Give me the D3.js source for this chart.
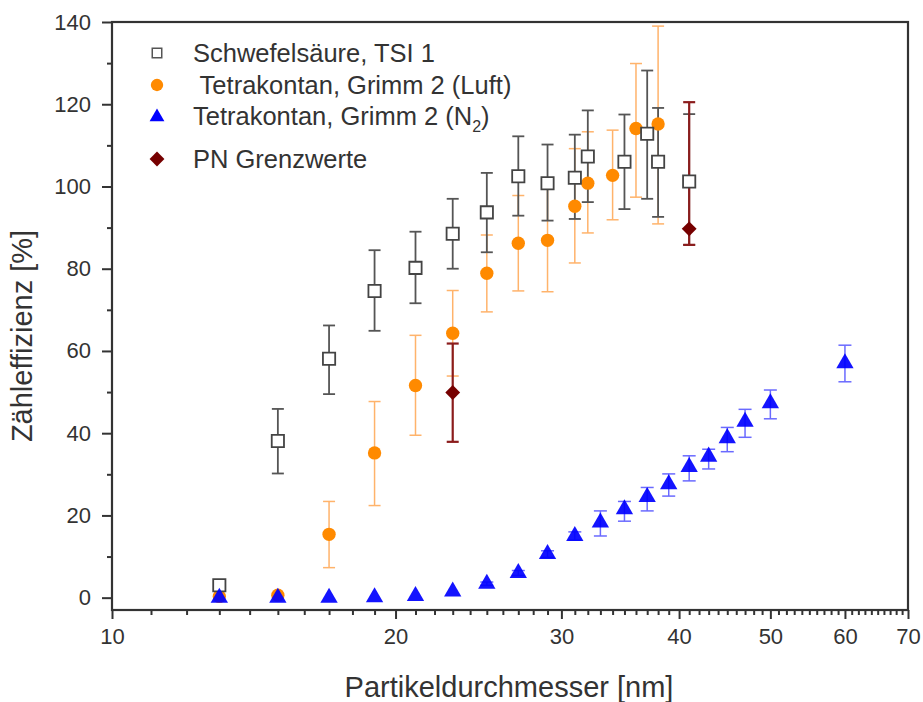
<!DOCTYPE html>
<html>
<head>
<meta charset="utf-8">
<script src="https://cdn.jsdelivr.net/npm/d3@7"></script>
<style>
  body { margin: 0; background: #fff; }
  text { font-family: "Liberation Sans", Arial, sans-serif; fill: #333; }
</style>
</head>
<body>
<div id="chart"></div>
<script>
// Schwefelsäure, TSI 1
const sulfX  = [13, 15, 17, 19, 21, 23, 25, 27, 29, 31, 32, 35, 37, 38, 41];
const sulfY  = [3, 38.1, 58.1, 74.6, 80.2, 88.5, 93.7, 102.5, 100.8, 102.1, 107.3, 106, 112.8, 106, 101.2];
const sulfLo = [3, 30.2, 49.5, 64.9, 71.6, 80, 84, 92.9, 91.7, 92.1, 96.2, 94.5, 97, 92.6, 85.8];
const sulfHi = [3, 45.9, 66.2, 84.5, 89, 97, 103.3, 112.2, 110.2, 112.6, 118.5, 117.5, 128.2, 119.1, 117.6];

// Tetrakontan, Grimm 2 (Luft)
const luftX  = [13, 15, 17, 19, 21, 23, 25, 27, 29, 31, 32, 34, 36, 38];
const luftY  = [0.3, 0.6, 15.4, 35.2, 51.6, 64.3, 78.9, 86.2, 86.9, 95.2, 100.8, 102.7, 114.1, 115.2];
const luftLo = [0.3, 0.6, 7.3, 22.4, 39.5, 53.9, 69.5, 74.6, 74.4, 81.4, 88.7, 91.9, 97.4, 90.9];
const luftHi = [0.3, 0.6, 23.4, 47.7, 63.8, 74.7, 88.2, 97.8, 99.4, 109.2, 113.3, 113.7, 129.9, 139];

// Tetrakontan, Grimm 2 (N2)
const n2X  = [13, 15, 17, 19, 21, 23, 25, 27, 29, 31, 33, 35, 37, 39, 41, 43, 45, 47, 50, 60];
const n2Y  = [0, 0, 0, 0.1, 0.4, 1.5, 3.4, 6, 10.6, 15, 18.3, 21.5, 24.5, 27.6, 31.8, 34.3, 38.8, 42.8, 47.3, 57];
const n2Lo = [0, 0, 0, 0.1, 0.4, 1.5, 3.0, 5.4, 9.8, 14.0, 15.0, 18.6, 21.1, 24.7, 28.4, 31.3, 35.5, 39.0, 43.5, 52.5];
const n2Hi = [0, 0, 0, 0.1, 0.4, 1.5, 3.8, 6.6, 11.4, 16.0, 21.1, 23.4, 26.8, 30.1, 34.5, 36.1, 41.4, 45.8, 50.5, 61.4];

// PN Grenzwerte
const pnX  = [23, 41];
const pnY  = [49.9, 89.7];
const pnLo = [37.9, 85.8];
const pnHi = [61.8, 120.5];

const xMajor = [10, 20, 30, 40, 50, 60, 70];
const yMajor = [0, 20, 40, 60, 80, 100, 120, 140];

const legendLabels = ["Schwefelsäure, TSI 1", " Tetrakontan, Grimm 2 (Luft)", "Tetrakontan, Grimm 2 (N", "PN Grenzwerte"];

const W = 923, H = 702;
const mLeft = 112, mRight = 908, mTop = 22, mBottom = 610;

const svg = d3.select("#chart").append("svg")
  .attr("width", W)
  .attr("height", H);

const x = d3.scaleLog().domain([10, 70]).range([mLeft, mRight]);
const y = d3.scaleLinear().domain([-3, 140]).range([mBottom, mTop]);

const zip = (xs, ys, lo, hi) => xs.map((v, i) => ({x: v, y: ys[i], lo: lo[i], hi: hi[i]}));
const series = [
  {name: "luft", data: zip(luftX, luftY, luftLo, luftHi), err: "#ffb36b", errW: 1.5, cap: 12},
  {name: "sulf", data: zip(sulfX, sulfY, sulfLo, sulfHi), err: "#555", errW: 1.8, cap: 12},
  {name: "n2", data: zip(n2X, n2Y, n2Lo, n2Hi), err: "#6a6aff", errW: 1.5, cap: 13},
  {name: "pn", data: zip(pnX, pnY, pnLo, pnHi), err: "#8b1c1c", errW: 2.2, cap: 12}
];

// axes: minor + major ticks
const minorX = d3.range(11, 70).filter(d => d % 10 != 0);
svg.append("g")
  .attr("transform", "translate(0," + mBottom + ")")
  .call(d3.axisBottom(x).tickValues(minorX).tickSize(5).tickFormat(""))
  .call(g => g.select(".domain").remove());
svg.append("g")
  .attr("transform", "translate(0," + mBottom + ")")
  .call(d3.axisBottom(x).tickValues(xMajor).tickSize(9).tickPadding(9).tickFormat(d3.format("d")))
  .call(g => g.select(".domain").remove());

const minorY = d3.range(10, 140, 20);
svg.append("g")
  .attr("transform", "translate(" + mLeft + ",0)")
  .call(d3.axisLeft(y).tickValues(minorY).tickSize(5).tickFormat(""))
  .call(g => g.select(".domain").remove());
svg.append("g")
  .attr("transform", "translate(" + mLeft + ",0)")
  .call(d3.axisLeft(y).tickValues(yMajor).tickSize(10).tickPadding(11))
  .call(g => g.select(".domain").remove());

svg.selectAll(".tick line").attr("stroke", "#333").attr("stroke-width", 2);
svg.selectAll(".tick text")
  .style("font-size", "22px")
  .style("font-family", "'Liberation Sans', Arial, sans-serif")
  .attr("fill", "#333");

// frame
svg.append("rect")
  .attr("x", mLeft).attr("y", mTop)
  .attr("width", mRight - mLeft).attr("height", mBottom - mTop)
  .attr("fill", "none").attr("stroke", "#333").attr("stroke-width", 2.2);

// axis titles
svg.append("text")
  .attr("x", 509)
  .attr("y", 697)
  .attr("text-anchor", "middle")
  .style("font-size", "29px")
  .text("Partikeldurchmesser [nm]");

svg.append("text")
  .attr("transform", "translate(32," + 336 + ") rotate(-90)")
  .attr("text-anchor", "middle")
  .style("font-size", "29px")
  .text("Zähleffizienz [%]");

// error bars
const plot = svg.append("g");
series.forEach(s => {
  const g = plot.append("g").attr("stroke", s.err).attr("stroke-width", s.errW);
  const d = s.data.filter(p => p.hi - p.lo > 0.5);
  g.selectAll(".v").data(d).enter().append("line")
    .attr("x1", p => x(p.x)).attr("x2", p => x(p.x))
    .attr("y1", p => y(p.lo)).attr("y2", p => y(p.hi));
  g.selectAll(".t").data(d).enter().append("line")
    .attr("x1", p => x(p.x) - s.cap / 2).attr("x2", p => x(p.x) + s.cap / 2)
    .attr("y1", p => y(p.hi)).attr("y2", p => y(p.hi));
  g.selectAll(".b").data(d).enter().append("line")
    .attr("x1", p => x(p.x) - s.cap / 2).attr("x2", p => x(p.x) + s.cap / 2)
    .attr("y1", p => y(p.lo)).attr("y2", p => y(p.lo));
});

// markers
const circle = d3.symbol().type(d3.symbolCircle).size(140);
const square = d3.symbol().type(d3.symbolSquare).size(150);
const tri = d3.symbol().type(d3.symbolTriangle).size(130);
const diamond = d3.symbol().type(d3.symbolSquare).size(110);

plot.append("g").selectAll("path").data(series[0].data).enter().append("path")
  .attr("d", circle)
  .attr("transform", p => "translate(" + x(p.x) + "," + y(p.y) + ")")
  .attr("fill", "#ff8a00");

plot.append("g").selectAll("path").data(series[1].data).enter().append("path")
  .attr("d", square)
  .attr("transform", p => "translate(" + x(p.x) + "," + y(p.y) + ")")
  .attr("fill", "#fff").attr("stroke", "#444").attr("stroke-width", 1.8);

plot.append("g").selectAll("path").data(series[2].data).enter().append("path")
  .attr("d", tri)
  .attr("transform", p => "translate(" + x(p.x) + "," + y(p.y) + ")")
  .attr("fill", "#0000ff").attr("fill-opacity", 0.92);

plot.append("g").selectAll("path").data(series[3].data).enter().append("path")
  .attr("d", diamond)
  .attr("transform", p => "translate(" + x(p.x) + "," + y(p.y) + ") rotate(45)")
  .attr("fill", "#760000");

// legend
const legend = svg.append("g");
const legY = [53, 85, 116, 159];
legend.append("path").attr("d", d3.symbol().type(d3.symbolSquare).size(90))
  .attr("transform", "translate(157," + legY[0] + ")")
  .attr("fill", "#fff").attr("stroke", "#555").attr("stroke-width", 1.5);
legend.append("path").attr("d", d3.symbol().type(d3.symbolCircle).size(120))
  .attr("transform", "translate(157," + legY[1] + ")")
  .attr("fill", "#ff8a00");
legend.append("path").attr("d", d3.symbol().type(d3.symbolTriangle).size(95))
  .attr("transform", "translate(157," + (legY[2] + 1) + ")")
  .attr("fill", "#0000ff");
legend.append("path").attr("d", d3.symbol().type(d3.symbolSquare).size(110))
  .attr("transform", "translate(157," + legY[3] + ") rotate(45)")
  .attr("fill", "#760000");

legendLabels.forEach((t, i) => {
  const txt = legend.append("text")
    .attr("x", 193).attr("y", legY[i] + 9)
    .style("font-size", "25.5px")
    .attr("xml:space", "preserve")
    .style("white-space", "pre")
    .text(t);
  if (i == 2) {
    txt.append("tspan").attr("dy", 7).style("font-size", "16px").text("2");
    txt.append("tspan").attr("dy", -7).text(")");
  }
});
</script>
</body>
</html>
